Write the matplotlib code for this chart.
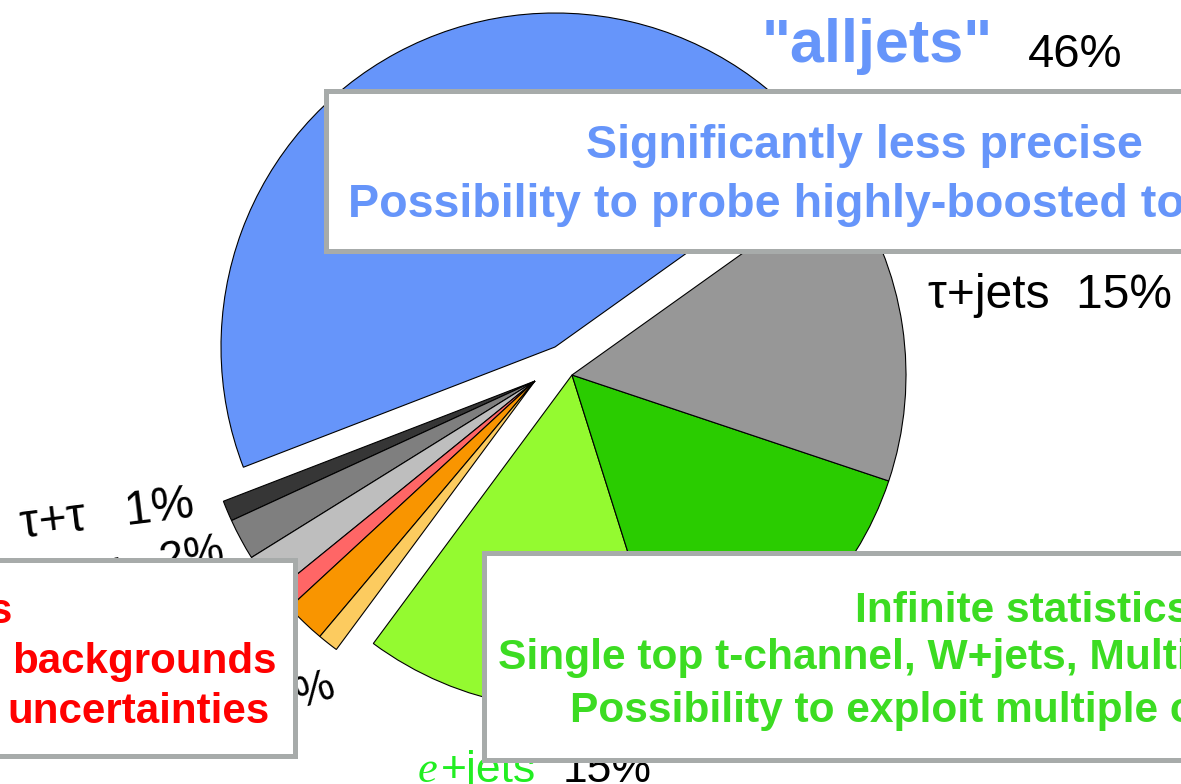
import numpy as np
import matplotlib
matplotlib.use("Agg")
import matplotlib.pyplot as plt
from matplotlib.patches import Rectangle

plt.rcParams["font.family"] = ["Liberation Sans", "DejaVu Sans"]

# ttbar decay channels, branching fractions in percent
lepjet_names = ["e+jets", "μ+jets", "τ+jets"]
lepjet_values = [15, 15, 15]
alljets_name = '"alljets"'
alljets_values = [46]
dilep_names = ["τ+τ", "τ+μ", "τ+e", "μ+μ", "e+μ", "e+e"]
dilep_values = [1, 2, 2, 1, 2, 1]

lepjet_colors = ["#94FA30", "#2ACC00", "#979797"]
alljets_colors = ["#6695FA"]
dilep_colors = ["#363636", "#7F7F7F", "#BEBEBE", "#FF6666", "#F99500", "#FCCB5F"]

BLUE = "#6695FA"
GREEN_TXT = "#3CDC22"
LABEL_GREEN = "#22EE22"
RED = "#FF0000"
BOX_EDGE = "#A7ABAA"

W, H = 1181, 784
fig = plt.figure(figsize=(W / 100, H / 100), dpi=100)
ax = fig.add_axes([0, 0, 1, 1])


def Y(y):
    return H - y


R = 334
wedge_style = dict(edgecolor="black", linewidth=0.8)
start = -126.5

# lepton+jets group
ax.pie(np.array(lepjet_values) / 100, colors=lepjet_colors, startangle=start,
       center=(572, Y(375)), radius=R, normalize=False, wedgeprops=wedge_style)
# all-hadronic
blue_start = start + 3.6 * sum(lepjet_values)
ax.pie(np.array(alljets_values) / 100, colors=alljets_colors, startangle=blue_start,
       center=(555, Y(347)), radius=R, normalize=False, wedgeprops=wedge_style)
# dilepton group
dl_start = blue_start + 3.6 * sum(alljets_values)
ax.pie(np.array(dilep_values) / 100, colors=dilep_colors, startangle=dl_start,
       center=(535, Y(381)), radius=R, normalize=False, wedgeprops=wedge_style)

ax.set_xlim(0, W)
ax.set_ylim(0, H)
ax.set_aspect("equal")
ax.axis("off")

LBL = 32
# slice labels
ax.text(762, Y(62), alljets_name, color=BLUE, fontsize=44, fontweight="bold",
        ha="left", va="baseline", zorder=3)
ax.text(1028, Y(67), f"{alljets_values[0]}%", color="black", fontsize=34,
        ha="left", va="baseline", zorder=3)
ax.text(928, Y(308), f"{lepjet_names[2]}  {lepjet_values[2]}%", color="black",
        fontsize=34.5, ha="left", va="baseline", zorder=3)
ax.text(418, Y(782), "e", color=LABEL_GREEN, fontsize=LBL, family="Liberation Serif",
        style="italic", ha="left", va="baseline", zorder=3)
ax.text(441, Y(782), lepjet_names[0][1:], color=LABEL_GREEN, fontsize=LBL,
        ha="left", va="baseline", zorder=3)
ax.text(563, Y(782), f"{lepjet_values[0]}%", color="black", fontsize=LBL,
        ha="left", va="baseline", zorder=3)

ax.text(22, Y(538), f"{dilep_names[0]}   {dilep_values[0]}%", color="black",
        fontsize=34.5, rotation=7, rotation_mode="anchor", ha="left", va="baseline", zorder=3)
ax.text(226, Y(562), f"{dilep_names[1]}   {dilep_values[1]}%", color="black",
        fontsize=LBL, rotation=10, rotation_mode="anchor", ha="right", va="baseline", zorder=3)
ax.text(338, Y(696), f"{dilep_names[4]}   {dilep_values[4]}%", color="black",
        fontsize=LBL, rotation=18, rotation_mode="anchor", ha="right", va="baseline", zorder=3)

# comment boxes
def box(x0, y0, x1, y1):
    lw_px = 5
    ax.add_patch(Rectangle((x0 + lw_px / 2, Y(y1 - lw_px / 2)),
                           (x1 - x0) - lw_px, (y1 - y0) - lw_px,
                           facecolor="white", edgecolor=BOX_EDGE, linewidth=3.6,
                           zorder=5))

box(323, 88, 1200, 253)
box(-20, 557, 297, 758)
box(481, 550, 1200, 762)

BT = 33.6
ax.text(864, Y(158), "Significantly less precise", color=BLUE, fontsize=BT,
        fontweight="bold", ha="center", va="baseline", zorder=6)
ax.text(864, Y(217), "Possibility to probe highly-boosted top quarks", color=BLUE,
        fontsize=BT, fontweight="bold", ha="center", va="baseline", zorder=6)

GT = 30.6
ax.text(855, Y(622), "Infinite statistics", color=GREEN_TXT, fontsize=GT,
        fontweight="bold", ha="left", va="baseline", zorder=6)
ax.text(498, Y(669), "Single top t-channel, W+jets, Multijet", color=GREEN_TXT,
        fontsize=GT, fontweight="bold", ha="left", va="baseline", zorder=6)
ax.text(570, Y(722), "Possibility to exploit multiple channels", color=GREEN_TXT,
        fontsize=GT, fontweight="bold", ha="left", va="baseline", zorder=6)

RT = 30.3
ax.text(12, Y(623), "s", color=RED, fontsize=RT, fontweight="bold",
        ha="right", va="baseline", zorder=6)
ax.text(277, Y(673), "backgrounds", color=RED, fontsize=RT, fontweight="bold",
        ha="right", va="baseline", zorder=6)
ax.text(270, Y(723), "uncertainties", color=RED, fontsize=RT, fontweight="bold",
        ha="right", va="baseline", zorder=6)

fig.savefig("out.png", dpi=100)
